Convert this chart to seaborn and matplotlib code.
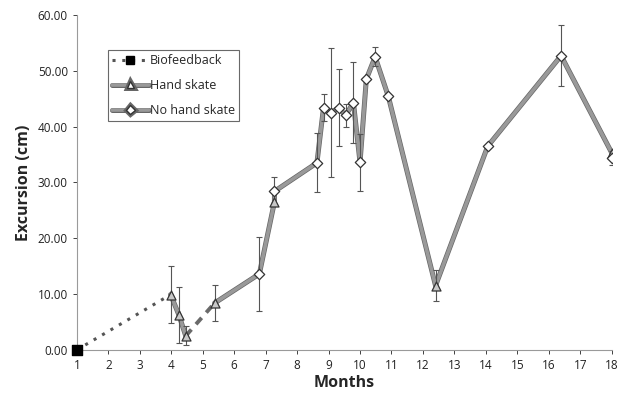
import numpy as np
import pandas as pd
import matplotlib
matplotlib.use("Agg")
import matplotlib.pyplot as plt
import matplotlib.patheffects as pe
from matplotlib.lines import Line2D
from matplotlib.ticker import FormatStrFormatter
import seaborn as sns

# Data
bio_x = [1.0, 3.98]
bio_y = [0.0, 9.9]

hs_x = [3.98, 4.24, 4.46, 5.38, 7.28, 12.4, 18.0]
hs_y = [9.9, 6.3, 2.5, 8.4, 26.5, 11.5, 35.3]
hs_err = [5.1, 5.0, 1.7, 3.3, 0.0, 2.8, 0.0]

nhs_x = [6.8, 7.28, 8.63, 8.84, 9.08, 9.32, 9.54, 9.79, 10.0, 10.2, 10.48, 10.9, 14.06, 16.39, 18.0]
nhs_y = [13.6, 28.4, 33.5, 43.4, 42.5, 43.4, 42.0, 44.3, 33.6, 48.5, 52.5, 45.4, 36.5, 52.7, 34.4]
nhs_err = [6.6, 2.5, 5.3, 2.4, 11.5, 6.9, 2.1, 7.3, 5.1, 0.0, 1.7, 0.0, 0.0, 5.5, 1.3]

x_ticks = list(range(1, 19))
y_ticks = [0, 10, 20, 30, 40, 50, 60]

sns.set_style("white")
plt.rcParams["font.family"] = ["Open Sans", "DejaVu Sans"]

hs = pd.DataFrame({"month": hs_x, "excursion": hs_y, "err": hs_err, "group": "Hand skate"})
nhs = pd.DataFrame({"month": nhs_x, "excursion": nhs_y, "err": nhs_err, "group": "No hand skate"})
path = pd.concat([hs, nhs], ignore_index=True).sort_values("month", kind="stable").reset_index(drop=True)

# one dashed gap between the 3rd and 4th hand-skate sessions
gap_lo, gap_hi = hs_x[2], hs_x[3]
part_a = path[path["month"] <= gap_lo]
part_gap = path[(path["month"] >= gap_lo) & (path["month"] <= gap_hi)]
part_b = path[path["month"] >= gap_hi]

fig = plt.figure(figsize=(6.3, 3.94), dpi=100)
ax = fig.add_axes([0.122, 0.112, 0.849, 0.850])

thick = [pe.Stroke(linewidth=3.6, foreground="#666666"), pe.Normal()]
line_col = "#999999"

sns.lineplot(x=bio_x, y=bio_y, ax=ax, color="#555555", linestyle=(0, (1, 2.2)),
             linewidth=2.2, sort=False, legend=False)
sns.lineplot(data=part_a, x="month", y="excursion", ax=ax, sort=False, color=line_col,
             linewidth=2.6, legend=False, path_effects=thick, estimator=None)
sns.lineplot(data=part_gap, x="month", y="excursion", ax=ax, sort=False, color="#6a6a6a",
             linewidth=2.8, linestyle=(0, (2.2, 1.8)), legend=False, estimator=None)
sns.lineplot(data=part_b, x="month", y="excursion", ax=ax, sort=False, color=line_col,
             linewidth=2.6, legend=False, path_effects=thick, estimator=None)

for df in (hs, nhs):
    d = df[df["err"] > 0]
    ax.errorbar(d["month"], d["excursion"], yerr=d["err"], fmt="none",
                ecolor="#555555", elinewidth=0.8, capsize=2, capthick=0.8, zorder=3)

sns.scatterplot(data=hs, x="month", y="excursion", ax=ax, marker="^", s=42,
                color="#c8c8c8", edgecolor="#333333", linewidth=0.9, zorder=4, legend=False)
sns.scatterplot(data=nhs, x="month", y="excursion", ax=ax, marker="D", s=28,
                color="white", edgecolor="#333333", linewidth=0.9, zorder=4, legend=False)
ax.scatter(bio_x[:1], bio_y[:1], marker="s", s=60, color="black", zorder=5, clip_on=False)

ax.set_xlim(1, 18)
ax.set_ylim(0, 60)
ax.set_xticks(x_ticks)
ax.set_yticks(y_ticks)
ax.yaxis.set_major_formatter(FormatStrFormatter("%.2f"))
ax.tick_params(axis="both", labelsize=8.5, colors="#222222", length=3, width=0.6,
               direction="out", left=True, bottom=True)
sns.despine(ax=ax)
for side in ("left", "bottom"):
    ax.spines[side].set_color("#9a9a9a")
    ax.spines[side].set_linewidth(0.8)

ax.set_xlabel("Months", fontsize=11.5, fontweight="bold", labelpad=2)
ax.set_ylabel("Excursion (cm)", fontsize=11.5, fontweight="bold", labelpad=4)

handles = [
    Line2D([], [], color="#555555", linestyle=(0, (1, 2.2)), linewidth=2.2,
           marker="s", markersize=5.5, markerfacecolor="black", markeredgecolor="black"),
    Line2D([], [], color=line_col, linewidth=2.6, path_effects=thick,
           marker="^", markersize=5.5, markerfacecolor="white", markeredgecolor="#333333"),
    Line2D([], [], color=line_col, linewidth=2.6, path_effects=thick,
           marker="D", markersize=4.8, markerfacecolor="white", markeredgecolor="#333333"),
]
leg = ax.legend(handles, ["Biofeedback", "Hand skate", "No hand skate"],
                loc="upper left", bbox_to_anchor=(0.058, 0.896), borderaxespad=0,
                fontsize=9, frameon=True, fancybox=False, handlelength=2.9,
                handletextpad=0.1, labelspacing=0.95, borderpad=0.35)
leg.get_frame().set_edgecolor("#444444")
leg.get_frame().set_linewidth(0.8)

fig.savefig("out.png", dpi=100)
